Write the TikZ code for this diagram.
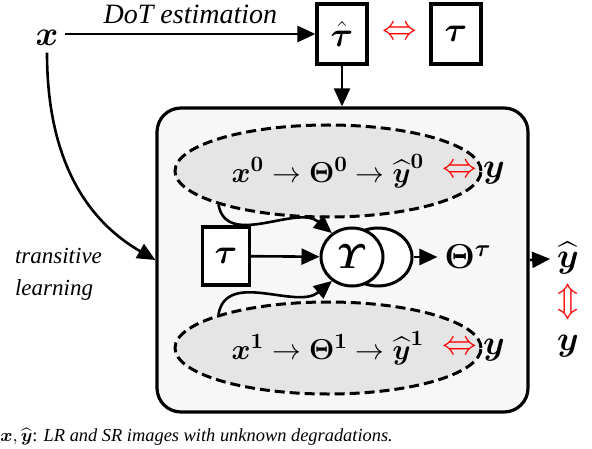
\documentclass[tikz,border=0pt]{standalone}
\usepackage{amsmath,amssymb}
\usepackage{fontspec}
\setmainfont{Liberation Serif}
\usepackage{tikz}
\usetikzlibrary{arrows.meta,shapes.geometric,calc}

\tikzset{
  arr/.style={line width=1.3pt,-{Triangle[length=9pt,width=8pt]}},
  tbox/.style={draw,line width=1.6pt,fill=white,minimum width=25pt,minimum height=30pt,inner sep=0pt},
  bigbox/.style={draw,line width=1.6pt,fill=gray!6,rounded corners=12pt,minimum width=185.5pt,minimum height=152pt},
  dset/.style={ellipse,draw,dashed,dash pattern=on 5pt off 2.5pt,line width=1.5pt,fill=gray!20,minimum width=153pt,minimum height=46pt,inner sep=0pt},
  ups/.style={ellipse,draw,line width=1.5pt,fill=white,minimum height=29pt,inner sep=0pt},
  mth/.style={font=\fontsize{17}{20}\selectfont},
  chain/.style={font=\fontsize{15.5}{19}\selectfont},
  txt/.style={font=\fontsize{13}{16}\selectfont\rmfamily\itshape},
  rel/.style={text=red,font=\fontsize{17}{20}\selectfont,inner sep=0pt}
}

\begin{document}
\begin{tikzpicture}[x=0.5pt,y=-0.5pt]
\useasboundingbox (0,0) rectangle (592,448);

% top row: degradation estimation
\node[mth] (x) at (47,38) {$\boldsymbol{x}$};
\node[tbox,mth] (tauhat) at (342,34) {$\hat{\boldsymbol{\tau}}$};
\node[rel] (cmptop) at (400,33) {$\Leftrightarrow$};
\node[tbox,mth] (tau) at (456,34) {$\boldsymbol{\tau}$};
\draw[arr] (x.east |- tauhat.west) -- node[txt,font=\fontsize{14}{16}\selectfont\rmfamily\itshape,above=1pt] {DoT estimation} (tauhat.west);

% the network
\node[bigbox] (net) at (342.5,260) {};
\draw[arr] (tauhat.south) -- (tauhat.south |- net.north);

\node[dset,chain] (e0) at (328,171) {$\boldsymbol{x^{0}} \rightarrow \boldsymbol{\Theta^{0}} \rightarrow \widehat{\boldsymbol{y}}^{\boldsymbol{0}}$\hspace{9pt}};
\node[rel] (cmp0) at (460,171) {$\Leftrightarrow$};
\node[mth] (y0) at (494,173) {$\boldsymbol{y}$};

\node[dset,chain] (e1) at (328,348) {$\boldsymbol{x^{1}} \rightarrow \boldsymbol{\Theta^{1}} \rightarrow \widehat{\boldsymbol{y}}^{\boldsymbol{1}}$\hspace{9pt}};
\node[rel] (cmp1) at (460,348) {$\Leftrightarrow$};
\node[mth] (y1) at (494,350) {$\boldsymbol{y}$};

\node[tbox,mth,minimum width=23.5pt,minimum height=29pt] (taumid) at (226,256) {$\boldsymbol{\tau}$};
\node[ups,minimum width=34pt] (u2) at (378,257) {};
\node[ups,mth,minimum width=31pt] (u1) at (352,257) {$\boldsymbol{\varUpsilon}$};
\node[mth] (thtau) at (468,257) {$\boldsymbol{\Theta^{\tau}}$};

\draw[arr] (taumid) -- (u1);
\draw[arr] (u2) -- (thtau);
\draw[arr] (e0.197) to[out=-80,in=140] (u1.130);
\draw[arr] (e1.163) to[out=80,in=-140] (u1.-130);

% output
\node[mth] (yhat) at (568,258) {$\widehat{\boldsymbol{y}}$};
\node[rel] (cmpout) at (568,302) {$\Updownarrow$};
\node[mth] (ygt) at (568,346) {$\boldsymbol{y}$};
\draw[arr] (net.east) -- (yhat);

% transitive learning
\draw[arr] (x.south) to[out=-90,in=150] (net.west);
\node[txt,font=\fontsize{11.5}{16}\selectfont\rmfamily\itshape,align=left,anchor=west] (trans) at (8,274) {transitive\\learning};

% caption
\node[anchor=west,inner sep=0pt,font=\fontsize{9.2}{11}\selectfont\rmfamily] (cap) at (0,437)
  {$\boldsymbol{x},\widehat{\boldsymbol{y}}$: \textit{LR and SR images with unknown degradations.}};
\end{tikzpicture}
\end{document}
